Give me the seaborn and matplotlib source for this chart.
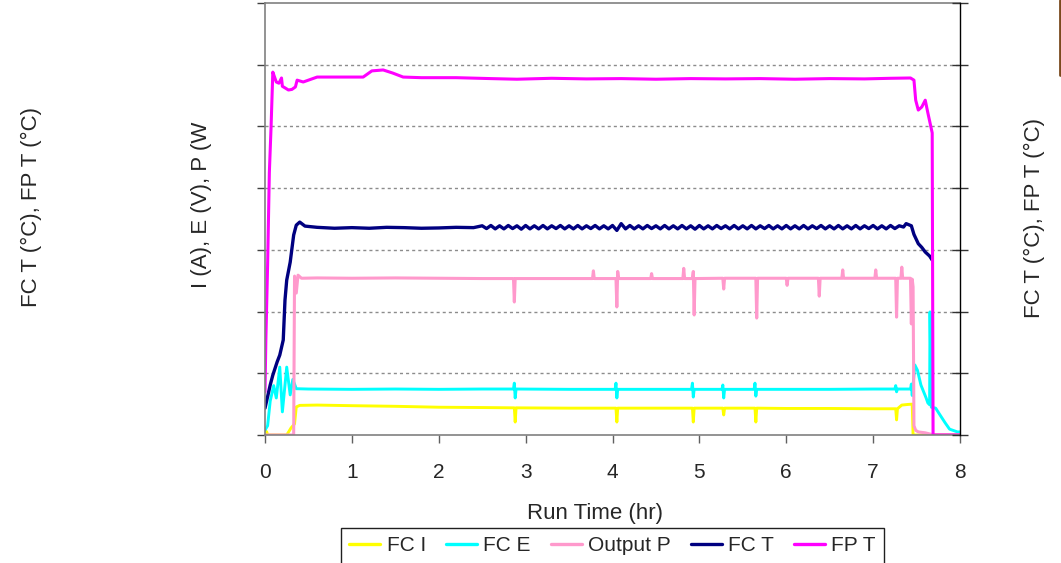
import numpy as np
import pandas as pd
import matplotlib
matplotlib.use("Agg")
import matplotlib.pyplot as plt
from matplotlib.lines import Line2D
import seaborn as sns

# ---------------- data ----------------
series_names = ["FC I", "FC E", "Output P", "FC T", "FP T"]
series_colors = ["#FFFF00", "#00FFFF", "#FF99CC", "#000080", "#FF00FF"]
x_ticks = [0, 1, 2, 3, 4, 5, 6, 7, 8]

fci_t = [0.00, 0.02, 0.03, 0.25, 0.30, 0.34, 0.36, 0.40, 0.60, 1.00,
         1.50, 2.00, 2.50, 2.87, 2.88, 2.89, 3.50, 4.04, 4.05, 4.06,
         4.50, 4.92, 4.93, 4.94, 5.27, 5.28, 5.29, 5.64, 5.65, 5.66,
         6.00, 6.50, 7.00, 7.26, 7.27, 7.28, 7.33, 7.40, 7.45, 7.46,
         8.00]
fci_v = [1.6, 1.0, 0.0, 0.0, 2.3, 3.6, 9.1, 9.6, 9.7, 9.5,
         9.3, 9.0, 8.9, 8.8, 4.2, 8.8, 8.7, 8.7, 4.2, 8.7,
         8.7, 8.7, 4.2, 8.7, 8.7, 6.5, 8.7, 8.7, 4.2, 8.7,
         8.6, 8.6, 8.5, 8.5, 4.9, 8.5, 9.7, 9.9, 10.0, 0.0,
         0.0]

fce_t = [0.00, 0.03, 0.06, 0.10, 0.13, 0.17, 0.20, 0.25, 0.29, 0.32,
         0.36, 0.50, 1.00, 1.50, 2.00, 2.50, 2.86, 2.87, 2.88, 2.89,
         3.50, 4.03, 4.04, 4.05, 4.06, 4.50, 4.91, 4.92, 4.93, 4.94,
         5.26, 5.27, 5.28, 5.29, 5.63, 5.64, 5.65, 5.66, 6.00, 6.50,
         7.00, 7.25, 7.26, 7.27, 7.28, 7.43, 7.44, 7.45, 7.48, 7.51,
         7.55, 7.61, 7.63, 7.65, 7.655, 7.67, 7.72, 7.77, 7.83, 7.88,
         7.97, 8.00]
fce_v = [1.6, 3.0, 11.0, 16.0, 12.0, 22.0, 7.5, 22.0, 13.0, 18.0,
         15.0, 14.9, 14.8, 14.9, 14.8, 14.9, 14.9, 16.8, 12.0, 14.9,
         14.8, 14.8, 16.8, 12.0, 14.8, 14.8, 14.8, 16.8, 12.3, 14.8,
         14.8, 16.2, 12.0, 14.8, 14.8, 16.8, 12.6, 14.8, 14.8, 14.8,
         14.9, 14.9, 16.0, 14.0, 14.9, 14.9, 16.5, 12.8, 22.7, 21.0,
         16.2, 12.0, 10.4, 9.8, 39.9, 9.0, 8.7, 6.5, 3.9, 1.9,
         1.0, 1.0]

outp_t = [0.00, 0.33, 0.34, 0.36, 0.38, 0.42, 0.60, 1.00, 1.50, 2.00,
          2.50, 2.86, 2.87, 2.88, 3.30, 3.77, 3.78, 3.79, 4.04, 4.05,
          4.06, 4.07, 4.44, 4.45, 4.46, 4.81, 4.82, 4.83, 4.92, 4.93,
          4.94, 4.95, 5.27, 5.28, 5.29, 5.65, 5.66, 5.67, 6.00, 6.01,
          6.02, 6.37, 6.38, 6.39, 6.64, 6.65, 6.66, 7.02, 7.03, 7.04,
          7.26, 7.27, 7.28, 7.32, 7.33, 7.34, 7.43, 7.44, 7.45, 7.46,
          7.47, 7.49, 7.52, 7.60, 7.70, 8.00]
outp_v = [0.0, 0.0, 51.5, 46.0, 51.8, 50.8, 50.9, 50.8, 50.9, 50.8,
          50.7, 50.7, 43.1, 50.7, 50.7, 50.7, 53.2, 50.7, 50.7, 41.5,
          53.0, 50.7, 50.7, 52.3, 50.7, 50.7, 54.0, 50.7, 50.7, 53.0,
          38.9, 50.7, 50.8, 47.3, 50.8, 50.8, 37.9, 50.8, 50.8, 48.5,
          50.8, 50.8, 45.0, 50.8, 50.8, 53.5, 50.8, 50.8, 53.5, 50.8,
          50.8, 38.2, 50.8, 50.8, 54.4, 50.8, 50.8, 36.0, 50.5, 48.0,
          3.0, 1.5, 1.0, 0.7, 0.0, 0.0]

fct_t = [0.00, 0.06, 0.09, 0.14, 0.17, 0.21, 0.23, 0.25, 0.29, 0.33,
         0.36, 0.40, 0.46, 0.60, 0.80, 1.00, 1.20, 1.40, 1.60, 1.80,
         2.00, 2.20, 2.40,
         2.50, 2.55, 2.60, 2.65, 2.70, 2.75, 2.80, 2.85, 2.90, 2.95,
         3.00, 3.05, 3.10, 3.15, 3.20, 3.25, 3.30, 3.35, 3.40, 3.45,
         3.50, 3.55, 3.60, 3.65, 3.70, 3.75, 3.80, 3.85, 3.90, 3.95,
         4.00, 4.05, 4.10, 4.15, 4.20, 4.25, 4.30, 4.35, 4.40, 4.45,
         4.50, 4.55, 4.60, 4.65, 4.70, 4.75, 4.80, 4.85, 4.90, 4.95,
         5.00, 5.05, 5.10, 5.15, 5.20, 5.25, 5.30, 5.35, 5.40, 5.45,
         5.50, 5.55, 5.60, 5.65, 5.70, 5.75, 5.80, 5.85, 5.90, 5.95,
         6.00, 6.05, 6.10, 6.15, 6.20, 6.25, 6.30, 6.35, 6.40, 6.45,
         6.50, 6.55, 6.60, 6.65, 6.70, 6.75, 6.80, 6.85, 6.90, 6.95,
         7.00, 7.05, 7.10, 7.15, 7.20, 7.25, 7.30, 7.35,
         7.38, 7.44, 7.47, 7.52, 7.56, 7.60, 7.65, 7.68]
fct_v = [8.7, 16.2, 19.4, 23.7, 25.9, 30.8, 43.7, 50.2, 56.0, 64.8,
         68.0, 69.0, 67.7, 67.3, 67.0, 67.2, 67.0, 67.3, 67.2, 67.0,
         67.1, 67.3, 67.2,
         67.8, 66.9, 67.9, 66.8, 67.8, 66.8, 67.9, 66.9, 67.8, 66.7,
         67.9, 66.8, 67.8, 66.8, 67.9, 66.8, 67.8, 66.9, 67.9, 66.8,
         67.8, 66.8, 67.9, 66.8, 67.8, 66.9, 67.9, 66.8, 67.8, 66.8,
         67.9, 66.3, 68.5, 66.8, 67.9, 66.8, 67.8, 66.8, 67.9, 66.9,
         67.8, 66.8, 67.9, 66.8, 67.8, 66.8, 67.9, 66.8, 67.8, 66.7,
         67.9, 66.8, 67.8, 66.8, 67.9, 66.9, 67.8, 66.8, 67.9, 66.8,
         67.8, 66.8, 67.9, 66.8, 67.8, 66.9, 67.9, 66.8, 67.8, 66.8,
         67.9, 66.8, 67.8, 66.8, 67.9, 66.8, 67.8, 66.9, 67.9, 66.8,
         67.8, 66.8, 67.9, 66.8, 67.8, 66.8, 67.9, 66.8, 67.8, 66.9,
         67.9, 66.8, 67.8, 66.8, 67.9, 66.9, 67.8, 67.4,
         68.5, 67.8, 65.0, 62.0, 60.8, 59.3, 58.0, 56.7]

fpt_t = [0.00, 0.01, 0.03, 0.05, 0.07, 0.09, 0.11, 0.13, 0.16, 0.19,
         0.20, 0.23, 0.27, 0.31, 0.35, 0.37, 0.44, 0.60, 0.85, 1.13,
         1.23, 1.36, 1.47, 1.59, 1.80, 2.20, 2.60, 2.90, 3.30, 3.70,
         4.10, 4.50, 4.90, 5.30, 5.70, 6.10, 6.50, 6.90, 7.20, 7.43,
         7.47, 7.49, 7.52, 7.56, 7.60, 7.63, 7.68, 7.69, 8.00]
fpt_v = [14.0, 31.0, 55.0, 85.0, 100.0, 117.6, 116.0, 114.4, 114.0, 115.7,
         113.0, 112.5, 111.8, 112.0, 112.8, 115.0, 114.4, 116.0, 116.0, 116.0,
         118.0, 118.3, 117.3, 116.0, 115.8, 115.8, 115.5, 115.3, 115.6, 115.4,
         115.5, 115.3, 115.5, 115.4, 115.5, 115.3, 115.5, 115.4, 115.6, 115.7,
         115.0, 108.5, 105.3, 106.3, 108.5, 104.4, 97.9, 0.0, 0.0]

# ---------------- build long table ----------------
frames = []
for name, tt, vv in zip(series_names,
                        [fci_t, fce_t, outp_t, fct_t, fpt_t],
                        [fci_v, fce_v, outp_v, fct_v, fpt_v]):
    frames.append(pd.DataFrame({"t": tt, "v": vv, "series": name}))
df = pd.concat(frames, ignore_index=True)

# ---------------- style ----------------
sns.set_theme(style="white")
plt.rcParams["font.family"] = ["Liberation Sans", "DejaVu Sans"]

W, H = 1061, 563
fig = plt.figure(figsize=(W / 100, H / 100), dpi=100)
L, R, T, B = 265, 960, 3, 435
ax = fig.add_axes([L / W, 1 - B / H, (R - L) / W, (B - T) / H])

widths = {"FC I": 2.1, "FC E": 2.1, "Output P": 2.2, "FC T": 2.4, "FP T": 2.2}
for name, col in zip(series_names, series_colors):
    sub = df[df["series"] == name]
    sns.lineplot(data=sub, x="t", y="v", ax=ax, color=col,
                 lw=widths[name], estimator=None, sort=False,
                 legend=False)

ax.set_xlim(0, 8)
ax.set_ylim(0, 140)
ax.set_xticks(x_ticks)
ax.set_xticklabels([str(v) for v in x_ticks], fontsize=15)
ax.set_yticks([0, 20, 40, 60, 80, 100, 120, 140])
ax.set_yticklabels([])
ax.set_xlabel("")
ax.set_ylabel("")

for yv in [20, 40, 60, 80, 100, 120]:
    ax.axhline(yv, color="#8c8c8c", lw=1.0, ls=(0, (2.2, 2.2)), zorder=0)

for s in ["left", "bottom", "top"]:
    ax.spines[s].set_color("#808080")
    ax.spines[s].set_linewidth(1.2)
ax.spines["right"].set_visible(False)
ax.tick_params(axis="x", direction="out", length=6, width=1, color="#606060",
               pad=14, labelsize=15, bottom=True)
ax.tick_params(axis="y", direction="out", length=6, width=1, color="#404040",
               left=True)

ax2 = ax.twinx()
ax2.set_ylim(0, 140)
ax2.set_yticks([0, 20, 40, 60, 80, 100, 120, 140])
ax2.set_yticklabels([])
for s in ["left", "bottom", "top"]:
    ax2.spines[s].set_visible(False)
ax2.spines["right"].set_color("black")
ax2.spines["right"].set_linewidth(1.0)
ax2.tick_params(axis="y", direction="inout", length=11, width=1, color="#333333")

# axis titles
fig.text(595 / W, 1 - 514 / H, "Run Time (hr)", ha="center", va="center",
         fontsize=16)
fig.text(31 / W, 1 - 207 / H, "FC T (°C), FP T (°C)", rotation=90,
         ha="center", va="center", fontsize=16)
fig.text(201 / W, 1 - 205 / H, "I (A), E (V), P (W", rotation=90,
         ha="center", va="center", fontsize=16)
fig.text(1034 / W, 1 - 218 / H, "FC T (°C), FP T (°C)", rotation=90,
         ha="center", va="center", fontsize=16)

# legend
handles = [Line2D([0], [0], color=c, lw=2.4) for c in series_colors]
leg = fig.legend(handles, series_names, loc="upper center",
                 bbox_to_anchor=(612.5 / W, 1 - 528 / H), ncol=5,
                 frameon=True, fancybox=False, fontsize=15,
                 handlelength=1.5, handletextpad=0.3, columnspacing=0.95,
                 borderpad=0.4, borderaxespad=0)
leg.get_frame().set_edgecolor("#202020")
leg.get_frame().set_linewidth(1.0)
leg.get_frame().set_alpha(1)

# thin brown edge mark at the top right corner
fig.add_artist(Line2D([1059.5 / W, 1059.5 / W], [1.0, 1 - 75 / H],
                      color="#7a4a1e", lw=2.0))

fig.savefig("out.png", dpi=100)
